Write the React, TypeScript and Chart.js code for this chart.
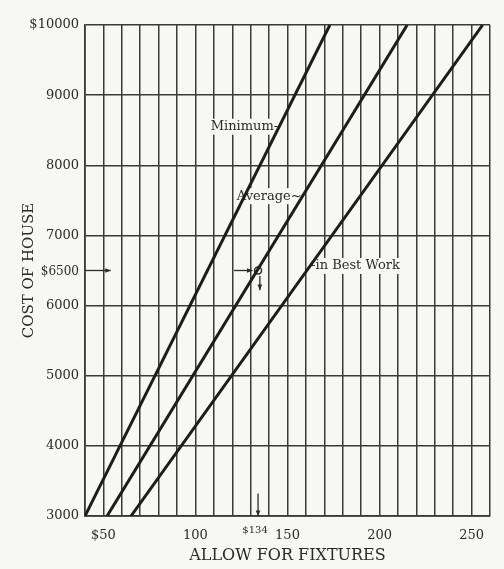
import React, { useEffect, useRef } from 'react';
import { Chart, registerables } from 'chart.js';

Chart.register(...registerables);

// ---- data ----
const costEnds = [3000, 10000];
const minimumAllow = [40, 173];
const averageAllow = [52, 215];
const bestWorkAllow = [65, 256];
const allowTickLabels = [50, 100, 150, 200, 250];
const lineLabels = ['Minimum-', 'Average~', '-in Best Work'];
const lineLabelCost = [8550, 7560, 6565];
const exampleCost = 6500;
const exampleAllow = 134;

const INK = '#2a2a2a';
const GRID = '#3a3a3a';
const BG = '#f7f7f5';
const FONT = '"DejaVu Serif", Georgia, serif';

function xOnLine(allow: number[], cost: number) {
  const t = (cost - costEnds[0]) / (costEnds[1] - costEnds[0]);
  return allow[0] + t * (allow[1] - allow[0]);
}

function arrow(ctx: CanvasRenderingContext2D, x1: number, y1: number, x2: number, y2: number) {
  ctx.beginPath();
  ctx.moveTo(x1, y1);
  ctx.lineTo(x2, y2);
  ctx.stroke();
  const a = Math.atan2(y2 - y1, x2 - x1);
  const h = 6;
  ctx.beginPath();
  ctx.moveTo(x2, y2);
  ctx.lineTo(x2 - h * Math.cos(a - 0.4), y2 - h * Math.sin(a - 0.4));
  ctx.lineTo(x2 - h * Math.cos(a + 0.4), y2 - h * Math.sin(a + 0.4));
  ctx.closePath();
  ctx.fill();
}

const bgPlugin = {
  id: 'bg',
  beforeDraw(chart: any) {
    const { ctx, width, height } = chart;
    ctx.save();
    ctx.fillStyle = BG;
    ctx.fillRect(0, 0, width, height);
    ctx.restore();
  },
};

const annotatePlugin = {
  id: 'annotate',
  beforeDatasetsDraw(chart: any) {
    const { ctx, scales } = chart;
    const x = scales.x;
    const y = scales.y;
    ctx.save();
    ctx.textBaseline = 'middle';
    ctx.font = `13px ${FONT}`;
    const series = [minimumAllow, averageAllow, bestWorkAllow];
    lineLabels.forEach((label, i) => {
      const cost = lineLabelCost[i];
      const px = x.getPixelForValue(xOnLine(series[i], cost));
      const py = y.getPixelForValue(cost);
      const w = ctx.measureText(label).width;
      const left = i === 2 ? px + 1 : px - 1 - w;
      ctx.fillStyle = BG;
      ctx.fillRect(left - 1, py - 8, w + 2, 16);
      ctx.fillStyle = INK;
      ctx.textAlign = 'left';
      ctx.fillText(label, left, py);
    });
    ctx.restore();
  },
  afterDatasetsDraw(chart: any) {
    const { ctx, scales, chartArea } = chart;
    const x = scales.x;
    const y = scales.y;
    ctx.save();
    ctx.fillStyle = INK;
    ctx.strokeStyle = INK;
    ctx.lineWidth = 1.3;
    ctx.textBaseline = 'middle';

    // $6500 label on the cost axis and its arrow
    const py65 = y.getPixelForValue(exampleCost);
    ctx.font = `12px ${FONT}`;
    ctx.textAlign = 'right';
    ctx.fillText('$' + exampleCost, chartArea.left - 6, py65 + 1);
    arrow(ctx, chartArea.left, py65, x.getPixelForValue(54), py65);

    // arrows at the worked example
    arrow(ctx, x.getPixelForValue(121), py65, x.getPixelForValue(131), py65);
    arrow(ctx, x.getPixelForValue(135), y.getPixelForValue(6420), x.getPixelForValue(135), y.getPixelForValue(6220));

    // $134 on the allowance axis
    const px134 = x.getPixelForValue(exampleAllow);
    arrow(ctx, px134, y.getPixelForValue(3320), px134, chartArea.bottom);
    ctx.font = `10px ${FONT}`;
    ctx.textAlign = 'center';
    ctx.textBaseline = 'top';
    ctx.fillText('$' + exampleAllow, px134 - 3, chartArea.bottom + 9);
    ctx.restore();
  },
};

export default function App() {
  const ref = useRef<HTMLCanvasElement>(null);

  useEffect(() => {
    document.body.style.margin = '0';
    document.body.style.background = BG;
    const canvas = ref.current;
    if (!canvas) return;
    const mk = (allow: number[]) => allow.map((a, i) => ({ x: a, y: costEnds[i] }));
    const chart = new Chart(canvas, {
      type: 'scatter',
      data: {
        datasets: [
          { data: mk(minimumAllow), showLine: true, borderColor: '#1c1c1c', borderWidth: 3, pointRadius: 0 },
          { data: mk(averageAllow), showLine: true, borderColor: '#1c1c1c', borderWidth: 3, pointRadius: 0 },
          { data: mk(bestWorkAllow), showLine: true, borderColor: '#1c1c1c', borderWidth: 3, pointRadius: 0 },
          {
            data: [{ x: exampleAllow, y: exampleCost }],
            showLine: false,
            pointRadius: 3.5,
            pointBackgroundColor: BG,
            pointBorderColor: INK,
            pointBorderWidth: 1.5,
          },
        ],
      },
      options: {
        responsive: false,
        animation: false,
        layout: { padding: { top: 25, right: 14, bottom: 0, left: 20 } },
        plugins: { legend: { display: false }, tooltip: { enabled: false } },
        scales: {
          x: {
            type: 'linear',
            min: 40,
            max: 260,
            afterFit: (s: any) => { s.height = 53; },
            ticks: {
              stepSize: 10,
              autoSkip: false,
              maxRotation: 0,
              padding: 12,
              color: INK,
              font: { family: FONT, size: 13 },
              callback: (v: any) => (allowTickLabels.includes(v) ? (v === 50 ? '$50' : String(v)) : ''),
            },
            grid: { color: GRID, lineWidth: 1.5, drawTicks: false },
            border: { color: GRID, width: 1.7 },
            title: {
              display: true,
              text: 'ALLOW FOR FIXTURES',
              color: INK,
              font: { family: FONT, size: 16 },
              padding: { top: 0, bottom: 4 },
            },
          },
          y: {
            type: 'linear',
            min: 3000,
            max: 10000,
            afterFit: (s: any) => { s.width = 65; },
            ticks: {
              stepSize: 1000,
              padding: 6,
              color: INK,
              font: { family: FONT, size: 13 },
              callback: (v: any) => (v === 10000 ? '$10000' : String(v)),
            },
            grid: { color: GRID, lineWidth: 1.5, drawTicks: false },
            border: { color: GRID, width: 1.7 },
            title: {
              display: true,
              text: 'COST OF HOUSE',
              color: INK,
              font: { family: FONT, size: 15 },
              padding: { top: 0, bottom: 0 },
            },
          },
        },
      },
      plugins: [bgPlugin, annotatePlugin],
    } as any);
    return () => chart.destroy();
  }, []);

  return (
    <div style={{ width: 504, height: 569 }}>
      <canvas ref={ref} width={504} height={569} />
    </div>
  );
}
